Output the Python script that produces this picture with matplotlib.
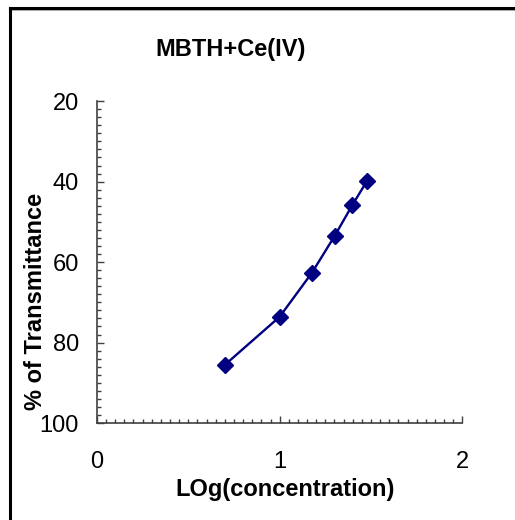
import matplotlib
matplotlib.use('Agg')
import matplotlib.pyplot as plt
from matplotlib.lines import Line2D
from matplotlib.ticker import MultipleLocator

# data
log_conc = [0.699, 1.0, 1.176, 1.301, 1.398, 1.477]
transmittance = [85.6, 73.6, 62.7, 53.5, 45.8, 39.9]
x_ticks = [0, 1, 2]
y_ticks = [20, 40, 60, 80, 100]

plt.rcParams['font.family'] = ['Liberation Sans', 'DejaVu Sans']

fig = plt.figure(figsize=(5.15, 5.2), dpi=100)
ax = fig.add_axes([0.188, 0.1865, 0.710, 0.619])

ax.plot(log_conc, transmittance, '-', color='#000080', linewidth=1.7,
        marker='D', markersize=8, markerfacecolor='#000080',
        markeredgecolor='#000080')

ax.set_xlim(0, 2)
ax.set_ylim(100, 20)
ax.set_xticks(x_ticks)
ax.set_yticks(y_ticks)
ax.xaxis.set_minor_locator(MultipleLocator(0.05))
ax.yaxis.set_minor_locator(MultipleLocator(2))

axis_col = '#404040'
for side in ['top', 'right']:
    ax.spines[side].set_visible(False)
for side in ['left', 'bottom']:
    ax.spines[side].set_color(axis_col)
    ax.spines[side].set_linewidth(1.2)

ax.tick_params(axis='both', which='major', direction='in', length=5,
               width=1, color=axis_col, labelsize=17)
ax.tick_params(axis='both', which='minor', direction='in', length=3,
               width=1, color=axis_col)
ax.tick_params(axis='x', which='major', pad=20)
ax.tick_params(axis='y', which='major', pad=13)

fig.text(0.447, 0.904, 'MBTH+Ce(IV)', ha='center', va='center',
         fontsize=17, fontweight='bold')
fig.text(0.553, 0.058, 'LOg(concentration)', ha='center', va='center',
         fontsize=17, fontweight='bold')
fig.text(0.068, 0.421, '% of Transmittance', ha='center', va='center',
         rotation=90, fontsize=17, fontweight='bold')

# outer chart frame (only top and left edges visible)
fig.add_artist(Line2D([0.019, 1.0], [0.981, 0.981], color='#b0b0b0',
                      linewidth=1.5, transform=fig.transFigure))
fig.add_artist(Line2D([0.019, 1.0], [0.984, 0.984], color='black',
                      linewidth=2.2, transform=fig.transFigure))
fig.add_artist(Line2D([0.019, 0.019], [0.0, 0.984], color='black',
                      linewidth=2.2, transform=fig.transFigure))

plt.savefig('out.png', dpi=100)
plt.close()
